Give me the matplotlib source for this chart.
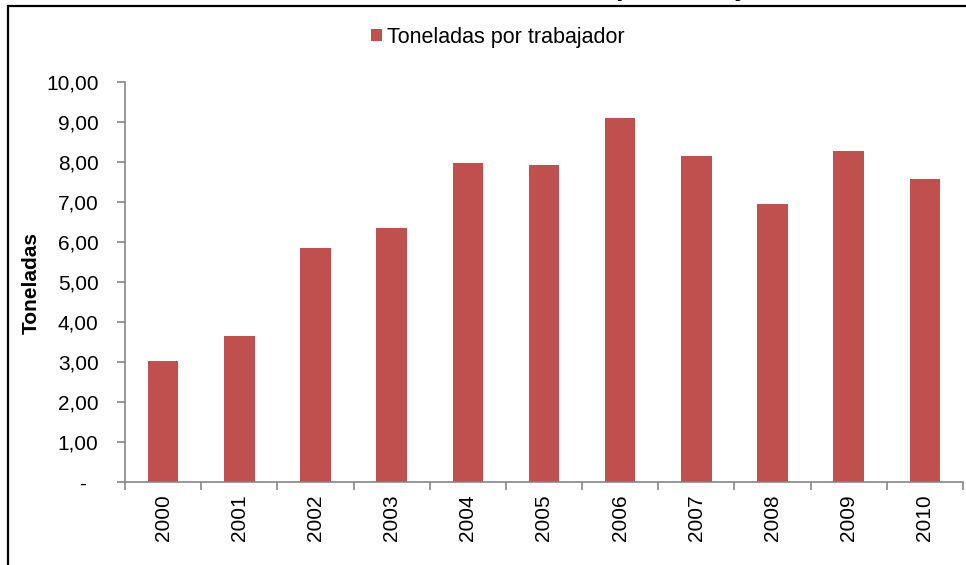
import matplotlib
matplotlib.use("Agg")
import matplotlib.pyplot as plt
from matplotlib.patches import Rectangle, Patch
from matplotlib.ticker import FixedLocator

plt.rcParams['font.family'] = ['Liberation Sans', 'DejaVu Sans']

years = ['2000', '2001', '2002', '2003', '2004', '2005', '2006', '2007', '2008', '2009', '2010']
toneladas = [3.03, 3.66, 5.86, 6.34, 7.97, 7.93, 9.11, 8.15, 6.95, 8.28, 7.57]
yticks = [0, 1, 2, 3, 4, 5, 6, 7, 8, 9, 10]
ytick_labels = ['-  ', '1,00', '2,00', '3,00', '4,00', '5,00', '6,00', '7,00', '8,00', '9,00', '10,00']
series_name = 'Toneladas por trabajador'
ylabel = 'Toneladas'

W, H = 966, 565
fig = plt.figure(figsize=(W / 100, H / 100), dpi=100)
ax = fig.add_axes([125 / W, 1 - 482 / H, (963 - 125) / W, (482 - 82) / H])

color = '#C0504D'
x = list(range(len(years)))
ax.bar(x, toneladas, width=0.40, color=color, edgecolor='none')

FS = 15
ax.set_xlim(-0.5, len(years) - 0.5)
ax.set_ylim(0, 10)
ax.set_yticks(yticks)
ax.set_yticklabels(ytick_labels, fontsize=FS)
ax.set_xticks(x)
ax.set_xticklabels(years, rotation=90, fontsize=FS)
ax.tick_params(axis='x', which='major', length=0, pad=9)
ax.xaxis.set_minor_locator(FixedLocator([i - 0.5 for i in range(len(years) + 1)]))
ax.tick_params(axis='x', which='minor', length=6, width=1.2, color='#868686', direction='out')
ax.tick_params(axis='y', length=6, width=1.2, color='#868686', direction='out', pad=13)

for s in ['top', 'right']:
    ax.spines[s].set_visible(False)
for s in ['left', 'bottom']:
    ax.spines[s].set_color('#868686')
    ax.spines[s].set_linewidth(1.2)

ax.set_ylabel(ylabel, fontsize=FS, fontweight='bold')
ax.yaxis.set_label_coords(41 / W, 0.5, transform=fig.transFigure)

handle = Patch(facecolor=color, edgecolor='none')
fig.legend([handle], [series_name], loc='center', bbox_to_anchor=(498 / W, 1 - 37 / H),
           frameon=False, fontsize=15.5, handlelength=0.48, handleheight=0.48,
           handletextpad=0.25, borderpad=0)

# outer chart frame (partially cut off)
fig.patches.append(Rectangle((8 / W, -0.1), 1.2, 1 - 6 / H + 0.1, transform=fig.transFigure,
                             fill=False, edgecolor='black', linewidth=1.6))

# cut-off title remnant above the frame
fig.text(616 / W, 1 + 5 / H, 'por trabajador,', fontsize=20, fontweight='bold',
         ha='left', va='baseline')

fig.savefig('out.png', dpi=100)
